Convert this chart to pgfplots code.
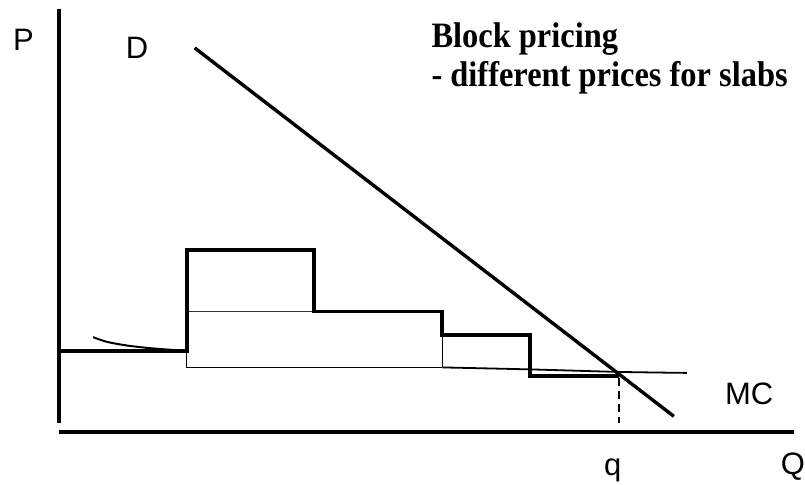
\documentclass[border=0pt]{standalone}
\usepackage{pgfplots}
\pgfplotsset{compat=1.18}
\usepackage{fontspec}
\setmainfont{Liberation Serif}
\newfontfamily\arial{Liberation Sans}
\begin{document}
\begin{tikzpicture}
\begin{axis}[
  width=805pt, height=485pt, scale only axis,
  xmin=0, xmax=805, ymin=0, ymax=485, y dir=reverse,
  hide axis, clip=false,
]
\path (axis cs:0,0) rectangle (axis cs:805,485);
% axes
\addplot[black, line width=4pt] coordinates {(59,9) (59,424)};
\addplot[black, line width=4pt] coordinates {(59,433) (795,433)};
% demand
\addplot[black, line width=3.4pt] coordinates {(195,48) (675,417)};
% thin rectangle
\addplot[black!80, line width=1.3pt] coordinates {(187,312) (315,312)};
\addplot[black, line width=1.3pt] coordinates {(187,312) (187,368) (443,368)};
\addplot[black, line width=1.3pt] coordinates {(443,336) (443,368)};
% MC
\addplot[black, line width=1.8pt, smooth] coordinates {(443,368) (531,370) (620,372.5) (688,373.5)};
\addplot[black, line width=2pt, smooth] coordinates {(93.3,337.7) (106.7,342.3) (126.7,346) (150,348.7) (173,350.5) (187,351.5)};
% steps
\addplot[black, line width=4pt, miter limit=10] coordinates {(59,352) (187,352) (187,250) (315,250) (315,312) (443,312) (443,336) (531,336) (531,377) (620,377)};
% dashed
\addplot[black, line width=2.8pt, dash pattern=on 8pt off 5pt] coordinates {(620,379) (620,424)};
% labels
\node[anchor=base west, inner sep=0pt, font=\arial\fontsize{31}{36}\selectfont] at (axis cs:13,51) {P};
\node[anchor=base west, inner sep=0pt, font=\arial\fontsize{31}{36}\selectfont] at (axis cs:126,59) {D};
\node[anchor=base west, inner sep=0pt, font=\arial\fontsize{31}{36}\selectfont] at (axis cs:726,405) {MC};
\node[anchor=base west, inner sep=0pt, font=\arial\fontsize{31}{36}\selectfont] at (axis cs:605,476) {q};
\node[anchor=base west, inner sep=0pt, font=\arial\fontsize{31}{36}\selectfont] at (axis cs:782,475) {Q};
\node[anchor=base west, inner sep=0pt, yscale=1.1, font=\bfseries\fontsize{32.5}{38}\selectfont] at (axis cs:432,48) {Block pricing};
\node[anchor=base west, inner sep=0pt, yscale=1.1, font=\bfseries\fontsize{32.5}{38}\selectfont] at (axis cs:432,87) {- different prices for slabs};
\end{axis}
\end{tikzpicture}
\end{document}
